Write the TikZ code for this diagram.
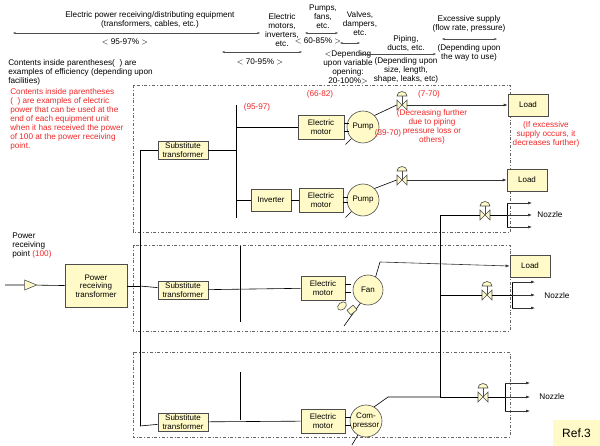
\documentclass[tikz,border=0pt]{standalone}
\usepackage{fontspec}
\setmainfont{Liberation Sans}
\usetikzlibrary{shapes.geometric, arrows.meta, positioning, calc}
\definecolor{boxfill}{RGB}{255,250,200}
\definecolor{redtxt}{RGB}{240,40,40}
\tikzstyle{unit} = [rectangle, draw=black!70, fill=boxfill, align=center, font=\fontsize{8}{8.5}\selectfont, inner sep=2pt]
\tikzstyle{machine} = [circle, draw=black!70, fill=boxfill, minimum size=32pt, inner sep=0pt, align=center, font=\fontsize{8}{8.5}\selectfont]
\tikzstyle{note} = [align=center, font=\fontsize{8.2}{9}\selectfont, inner sep=1pt]
\tikzstyle{rednote} = [note, text=redtxt]
\tikzstyle{group} = [draw=black!60, dash dot, thin]
\tikzstyle{dim} = [{Stealth[length=3pt]}-{Stealth[length=3pt]}, black!70]
\tikzstyle{flow} = [-{Latex[length=4pt]}, black!80]
\newcommand{\valve}[2]{% name, position
  \node (#1) [inner sep=0pt, minimum size=10pt] at #2 {};
  \draw[black!70] #2 -- ++(0,-9);
  \fill[boxfill, draw=black!70] ($#2+(-5,-5)$) -- ($#2+(5,5)$) -- ($#2+(5,-5)$) -- ($#2+(-5,5)$) -- cycle;
  \fill[boxfill, draw=black!70] ($#2+(-5,-9)$) arc (180:360:5 and 4.5) -- cycle;
}
\begin{document}
\begin{tikzpicture}[x=1pt, y=-1pt, line width=0.6pt]
\useasboundingbox (0,0) rectangle (600,446);
% header
\node[note] at (150,20) {Electric power receiving/distributing equipment\\(transformers, cables, etc.)};
\coordinate (d1a) at (13,33); \coordinate (d1b) at (260,33);
\draw[dim] (d1a) -- (d1b);
\node[note] at (125,42) {$<$ 95-97\% $>$};
\node[note] at (282,30) {Electric\\motors,\\inverters,\\etc.};
\coordinate (d2a) at (222,52); \coordinate (d2b) at (302,52);
\draw[dim] (d2a) -- (d2b);
\node[note] at (260,62) {$<$ 70-95\% $>$};
\node[note] at (323,17) {Pumps,\\fans,\\etc.};
\coordinate (d3a) at (305,33); \coordinate (d3b) at (338,33);
\draw[dim] (d3a) -- (d3b);
\node[note] at (318,41) {$<$ 60-85\% $>$};
\node[note] at (360,24) {Valves,\\dampers,\\etc.};
\coordinate (d4a) at (340,43); \coordinate (d4b) at (360,43);
\draw[dim] (d4a) -- (d4b);
\node[note] at (348,67) {$<$Depending\\upon variable\\opening:\\20-100\%$>$};
\node[note] at (406,44) {Piping,\\ducts, etc.};
\coordinate (d5a) at (360,54); \coordinate (d5b) at (436,54);
\draw[dim] (d5a) -- (d5b);
\node[note] at (406,70) {(Depending upon\\size, length,\\shape, leaks, etc)};
\node[note] at (469,24) {Excessive supply\\(flow rate, pressure)};
\coordinate (d6a) at (442,39); \coordinate (d6b) at (497,39);
\draw[dim] (d6a) -- (d6b);
\node[note] at (469,53) {(Depending upon\\the way to use)};
\node[note, align=left, anchor=north west] at (7,58) {Contents inside parentheses(\ \ ) are\\examples of efficiency (depending upon\\facilities)};
\node[rednote, align=left, anchor=north west] at (9,87) {Contents inside parentheses\\(\ \ ) are examples of electric\\power that can be used at the\\end of each equipment unit\\when it has received the power\\of 100 at the power receiving\\point.};
% groups
\draw[group] (133,85) rectangle (510,232);
\draw[group] (133,245) rectangle (510,331);
\draw[group] (133,352) rectangle (510,437);
% power receiving
\node[note, align=left, anchor=north west] at (11,232) {Power\\receiving\\point \textcolor{redtxt}{(100)}};
\coordinate (in) at (5,285);
\node (tri) [isosceles triangle, draw=black!70, fill=boxfill, minimum width=9pt, minimum height=12pt, inner sep=0pt] at (28,285) {};
\node (prt) [unit, minimum width=62pt, minimum height=43pt] at (96,286) {Power\\receiving\\transformer};
\draw (in) -- (tri) -- (prt);
\coordinate (bt) at (140,150); \coordinate (bb) at (140,426); \coordinate (bm) at (140,286);
\draw (bt) -- (bb); \draw (prt) -- (bm);
% sub transformers
\node (st1) [unit, minimum width=50pt] at (183,150) {Substitute\\transformer};
\node (st2) [unit, minimum width=50pt] at (183,290) {Substitute\\transformer};
\node (st3) [unit, minimum width=50pt] at (183,422) {Substitute\\transformer};
\draw (bt) -- (st1); \draw (bm) -- (st2); \draw (bb) -- (st3);
% group 1
\coordinate (b1t) at (236,105); \coordinate (b1b) at (236,218);
\draw (b1t) -- (b1b); \draw (st1) -- (236,150);
\node (mot1) [unit, minimum width=46pt, minimum height=24pt] at (321,127) {Electric\\motor};
\node (pump1) [machine] at (363,127) {Pump};
\draw (236,127) -- (mot1);
\draw ([yshift=-4pt]mot1.east) -- ++(5,0) (mot1.east) ++(0,4pt) -- ++(5,0);
\node (load1) [unit, minimum width=40pt, minimum height=22pt] at (528,105) {Load};
\valve{v1}{(402,105)}
\draw (pump1.45) -- (v1.west) (v1.east) edge[flow] (load1.west);
\draw (pump1.225) -- ++(-6,6);
\node[rednote] at (257,107) {(95-97)};
\node[rednote] at (320,94) {(66-82)};
\node[rednote] at (429,94) {(7-70)};
\node[rednote] at (388,133) {(39-70)};
\node[rednote] at (432,127) {(Decreasing further\\due to piping\\pressure loss or\\others)};
\node[rednote] at (546,134) {(If excessive\\supply occurs, it\\decreases further)};
\node (inv) [unit, minimum width=40pt, minimum height=22pt] at (271,200) {Inverter};
\node (mot2) [unit, minimum width=44pt, minimum height=24pt] at (321,200) {Electric\\motor};
\node (pump2) [machine] at (363,200) {Pump};
\draw (236,200) -- (inv) -- (mot2);
\draw (mot2.east) ++(0,-2pt) -- ++(5,0) (mot2.east) ++(0,3pt) -- ++(5,0);
\node (load2) [unit, minimum width=40pt, minimum height=22pt] at (527,180) {Load};
\valve{v2}{(402,180)}
\draw (pump2.45) -- (v2.west) (v2.east) edge[flow] (load2.west);
\draw (pump2.225) -- ++(-6,6);
% nozzle pipe
\coordinate (p1) at (440,215); \coordinate (p3) at (440,397); \coordinate (p2) at (440,295);
\draw (p1) -- (p3);
\valve{v3}{(485,215)}
\draw (p1) -- (v3.west) (v3.east) -- (507,215);
\coordinate (n1) at (507,203); \coordinate (n1b) at (507,227);
\draw (n1) -- (n1b);
\foreach \dy in {203,215,227} \draw[flow] (507,\dy) -- (532,\dy);
\node[note] (nz1) at (550,215) {Nozzle};
% group 2
\node (mot3) [unit, minimum width=44pt, minimum height=24pt] at (323,288) {Electric\\motor};
\node (fan) [machine, minimum size=30pt] at (368,290) {Fan};
\draw (240,246) -- (240,322); \draw (st2) -- (mot3);
\draw ([yshift=-4pt]mot3.east) -- ++(6,0) ([yshift=4pt]mot3.east) -- ++(6,0);
\node (load3) [unit, minimum width=40pt, minimum height=22pt] at (530,266) {Load};
\draw (fan.60) -- (380,262);
\draw[flow] (380,262) -- (load3.west);
\draw (fan.240) -- (344,326);
\node[draw=black!70, fill=boxfill, rotate=40, minimum width=8pt, minimum height=6pt, inner sep=0pt] at (352,310) {};
\node[draw=black!70, fill=boxfill, ellipse, rotate=40, minimum width=10pt, minimum height=7pt, inner sep=0pt] at (342,306) {};
\valve{v4}{(487,295)}
\draw (p2) -- (v4.west) (v4.east) -- (512,295);
\draw (512,282) -- (512,308);
\foreach \dy in {282,295,308} \draw[flow] (512,\dy) -- (535,\dy);
\node[note] (nz2) at (557,296) {Nozzle};
% group 3
\draw (240,372) -- (240,420);
\node (mot4) [unit, minimum width=44pt, minimum height=24pt] at (323,421) {Electric\\motor};
\node (comp) [machine] at (366,421) {Com-\\pressor};
\draw (st3) -- (mot4);
\draw ([yshift=-4pt]mot4.east) -- ++(6,0) ([yshift=4pt]mot4.east) -- ++(6,0);
\draw (comp.60) -- (388,397) -- (p3);
\draw (comp.240) -- ++(-6,10);
\valve{v5}{(483,397)}
\draw (p3) -- (v5.west) (v5.east) -- (505,397);
\draw (505,383) -- (505,411);
\foreach \dy in {383,397,411} \draw[flow] (505,\dy) -- (530,\dy);
\node[note] (nz3) at (552,397) {Nozzle};
% ref
\node (ref) [fill=boxfill, minimum width=47pt, minimum height=26pt, font=\fontsize{12}{13}\selectfont] at (576.5,433) {Ref.3};
\end{tikzpicture}
\end{document}
